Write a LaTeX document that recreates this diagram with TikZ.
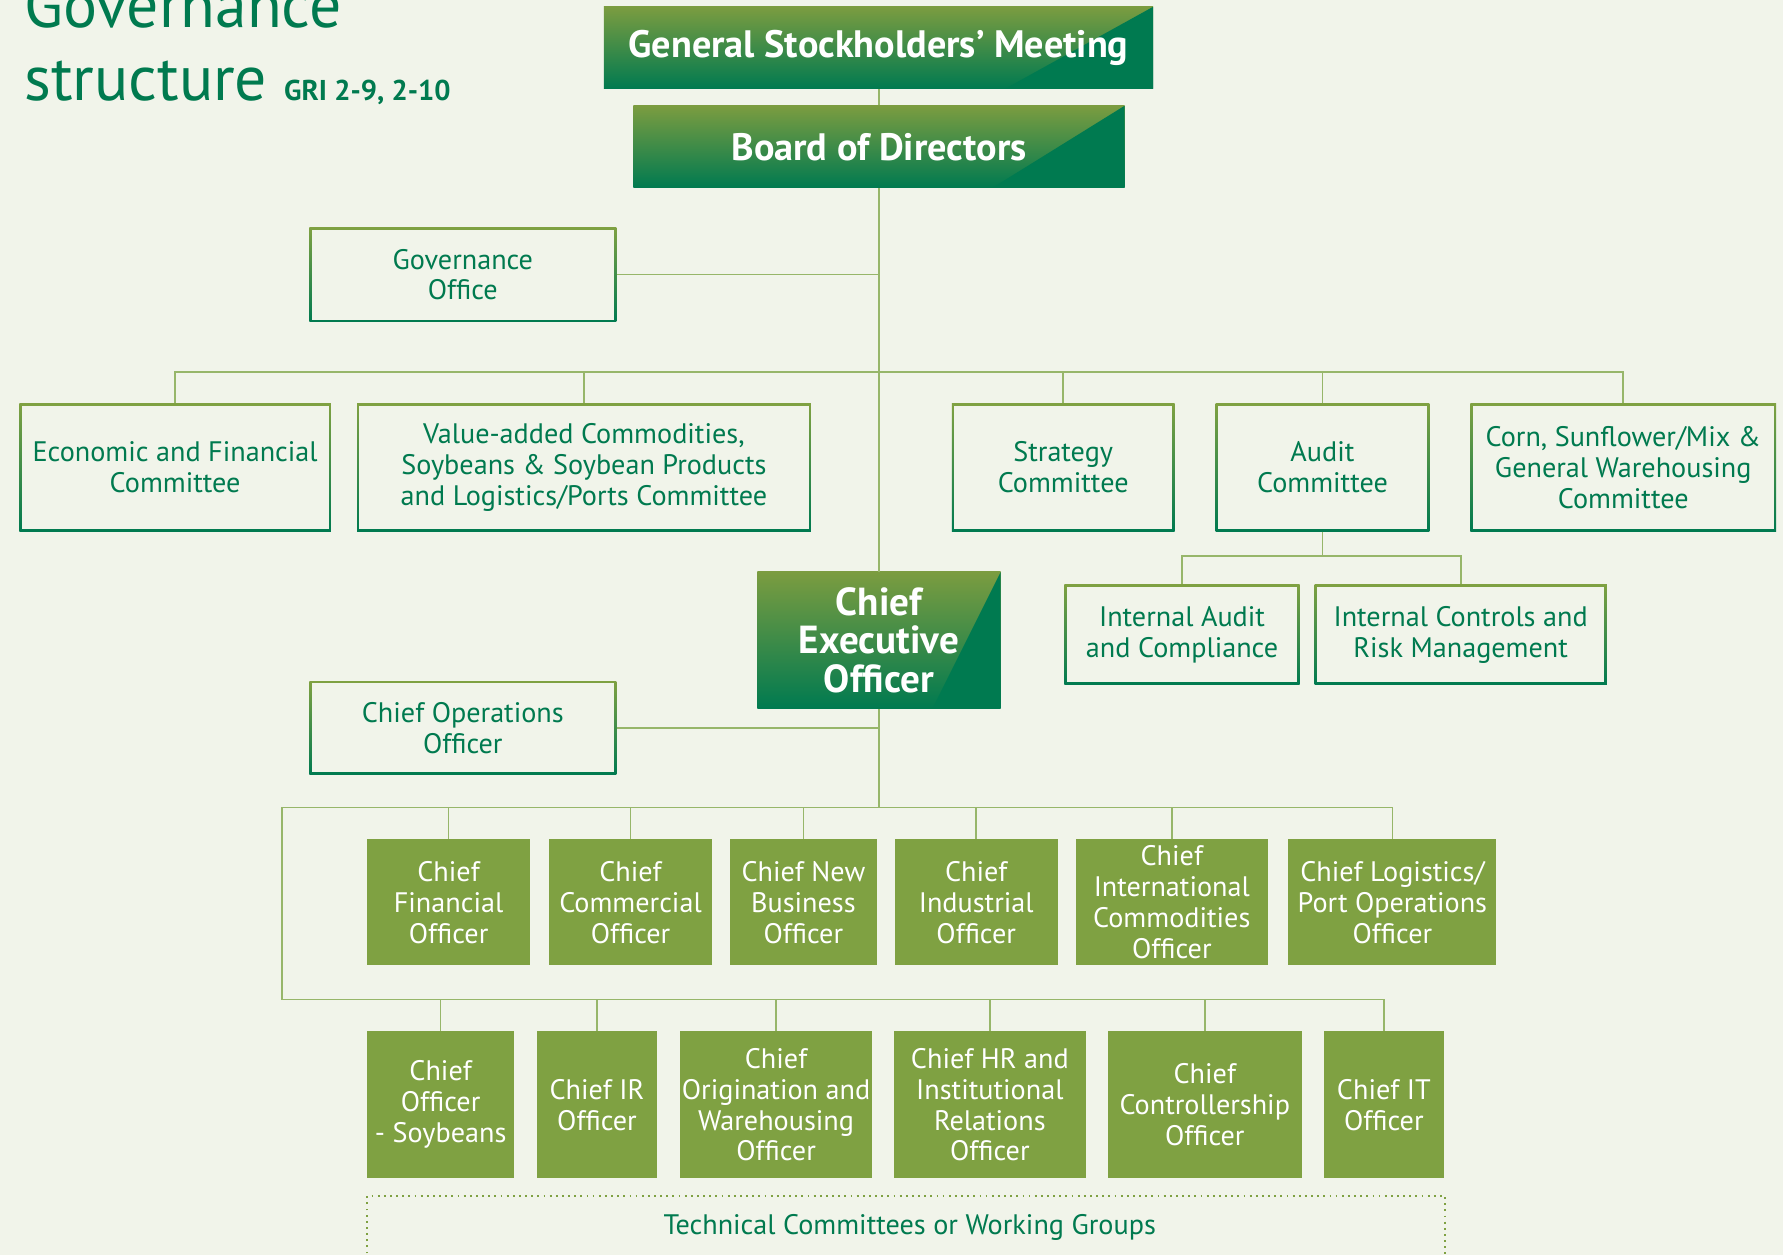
\documentclass[tikz,border=0pt]{standalone}
\usepackage{fontspec}
\setmainfont{PT Sans}
\usetikzlibrary{positioning}
\definecolor{bgpale}{HTML}{F1F4EA}
\definecolor{olivefill}{HTML}{7FA142}
\definecolor{deepgreen}{HTML}{007A50}
\definecolor{linkgreen}{HTML}{97B66A}
\definecolor{textgreen}{HTML}{007A4F}
\begin{document}
\begin{tikzpicture}[x=0.5pt, y=-0.5pt,
  link/.style={draw=linkgreen, line width=0.75pt},
  boxtext/.style={font=\fontsize{12.4}{13.6}\selectfont, align=center, inner sep=0pt},
  outlinebox/.style={boxtext, text=textgreen, top color=olivefill, bottom color=deepgreen,
    path picture={\fill[bgpale] ([shift={(1pt,-1pt)}]path picture bounding box.north west)
      rectangle ([shift={(-1pt,1pt)}]path picture bounding box.south east);}},
  officer/.style={boxtext, fill=olivefill, text=white},
  headbox/.style={top color=olivefill!97!black, bottom color=deepgreen, text=white, inner sep=0pt, align=center,
    path picture={\fill[deepgreen] (path picture bounding box.north east)
      -- (path picture bounding box.south east)
      -- ([xshift=-#1]path picture bounding box.south east) -- cycle;}},
  titletext/.style={text=textgreen, font=\fontsize{28}{32}\selectfont, inner sep=0pt, anchor=base west}]

  \fill[bgpale] (0,0) rectangle (1568,1104);
  \useasboundingbox (0,0) rectangle (1568,1104);

  % title
  \node[titletext] (govword) at (21,24) {Governance};
  \node[titletext] (structword) at (21,88) {structure};
  \node[text=textgreen, font=\bfseries\fontsize{12.6}{14}\selectfont, inner sep=0pt, base right=7pt of structword] (gri) {GRI 2-9, 2-10};

  % board level
  \node[headbox=65pt, minimum width=241.5pt, minimum height=36pt, font=\bfseries\fontsize{16.8}{19}\selectfont] (gsm) at (772.5,42) {General Stockholders’ Meeting};
  \node[headbox=58pt, minimum width=216pt, minimum height=36pt, font=\bfseries\fontsize{16.8}{19}\selectfont] (board) at (773,129) {Board of Directors};
  \node[outlinebox, minimum width=135pt, minimum height=41.5pt] (govoff) at (407,241.5) {Governance\\Office};

  % committees
  \node[outlinebox, minimum width=137pt, minimum height=56pt] (econ) at (154,411) {Economic and Financial\\Committee};
  \node[outlinebox, minimum width=199.5pt, minimum height=56pt] (valadd) at (513.5,411) {Value-added Commodities,\\Soybeans \& Soybean Products\\and Logistics/Ports Committee};
  \node[outlinebox, minimum width=98pt, minimum height=56pt] (strat) at (935,411) {Strategy\\Committee};
  \node[outlinebox, minimum width=94pt, minimum height=56pt] (audit) at (1163,411) {Audit\\Committee};
  \node[outlinebox, minimum width=134.5pt, minimum height=56pt] (corn) at (1427.5,411) {Corn, Sunflower/Mix \&\\General Warehousing\\Committee};
  \node[outlinebox, minimum width=103.5pt, minimum height=44pt] (intaud) at (1039.5,558) {Internal Audit\\and Compliance};
  \node[outlinebox, minimum width=128.5pt, minimum height=44pt] (intctl) at (1284.5,558) {Internal Controls and\\Risk Management};

  % executive level
  \node[headbox=30pt, minimum width=107pt, minimum height=60pt, font=\bfseries\fontsize{17.2}{16.8}\selectfont] (ceo) at (773,563) {Chief\\Executive\\Officer};
  \node[outlinebox, minimum width=135pt, minimum height=41pt] (coo) at (407,640) {Chief Operations\\Officer};

  \node[officer, minimum width=71.5pt, minimum height=55.5pt] (cfo) at (394.5,793.5) {Chief\\Financial\\Officer};
  \node[officer, minimum width=71.5pt, minimum height=55.5pt] (cco) at (554.5,793.5) {Chief\\Commercial\\Officer};
  \node[officer, minimum width=64.5pt, minimum height=55.5pt] (cnbo) at (706.5,793.5) {Chief New\\Business\\Officer};
  \node[officer, minimum width=71.5pt, minimum height=55.5pt] (cio) at (858.5,793.5) {Chief\\Industrial\\Officer};
  \node[officer, minimum width=84.5pt, minimum height=55.5pt] (cico) at (1030.5,793.5) {Chief\\International\\Commodities\\Officer};
  \node[officer, minimum width=91.5pt, minimum height=55.5pt] (clo) at (1224.5,793.5) {Chief Logistics/\\Port Operations\\Officer};

  \node[officer, minimum width=64.5pt, minimum height=64.5pt] (cos) at (387.5,971.5) {Chief\\Officer\\- Soybeans};
  \node[officer, minimum width=53pt, minimum height=64.5pt] (cir) at (525,971.5) {Chief IR\\Officer};
  \node[officer, minimum width=84.5pt, minimum height=64.5pt] (cow) at (682.5,971.5) {Chief\\Origination and\\Warehousing\\Officer};
  \node[officer, minimum width=84.5pt, minimum height=64.5pt] (chr) at (870.5,971.5) {Chief HR and\\Institutional\\Relations\\Officer};
  \node[officer, minimum width=85.5pt, minimum height=64.5pt] (cctl) at (1059.5,971.5) {Chief\\Controllership\\Officer};
  \node[officer, minimum width=53pt, minimum height=64.5pt] (cit) at (1217,971.5) {Chief IT\\Officer};

  \draw[olivefill, line width=0.9pt, dash pattern=on 0.8pt off 1.9pt] (323,1140) -- (323,1052) -- (1271,1052) -- (1271,1140);
  \node[boxtext, text=textgreen] (techgrp) at (800,1079) {Technical Committees or Working Groups};

  % connectors
  \coordinate (cbus) at (773,327);
  \coordinate (abus) at (1163,489);
  \coordinate (obus) at (248,710);
  \coordinate (lbus) at (248,879);
  \draw[link] (board.north) -- (board.north |- gsm.south);
  \draw[link] (board.south) -- (ceo.north);
  \draw[link] (govoff.east) -- (govoff.east -| board.south);
  \draw[link] (econ.north) |- (cbus) -| (corn.north);
  \foreach \n in {valadd,strat,audit}
    \draw[link] (\n.north) -- (\n.north |- cbus);
  \draw[link] (audit.south) -- (abus);
  \draw[link] (intaud.north) |- (abus) -| (intctl.north);
  \draw[link] (coo.east) -- (coo.east -| ceo.south);
  \draw[link] (ceo.south) -- (ceo.south |- obus);
  \draw[link] (clo.north) |- (obus) -- (lbus) -| (cit.north);
  \foreach \n in {cfo,cco,cnbo,cio,cico}
    \draw[link] (\n.north) -- (\n.north |- obus);
  \foreach \n in {cos,cir,cow,chr,cctl}
    \draw[link] (\n.north) -- (\n.north |- lbus);
\end{tikzpicture}
\end{document}
